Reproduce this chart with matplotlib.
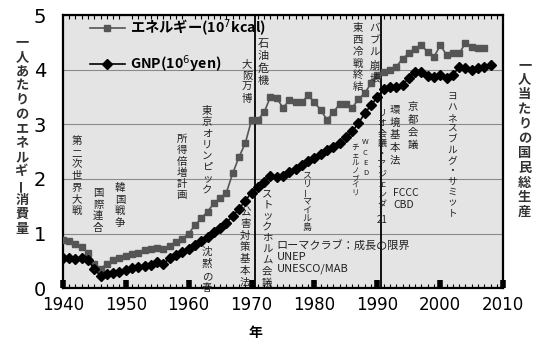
import matplotlib
matplotlib.use("Agg")
import matplotlib.pyplot as plt
import matplotlib.transforms as mtransforms
from matplotlib.ticker import MultipleLocator

plt.rcParams['font.family'] = ['Noto Sans CJK JP', 'DejaVu Sans']

# energy per person (10^7 kcal), annual
energy_years = list(range(1940, 2008))
energy = [0.88, 0.86, 0.80, 0.75, 0.65, 0.45, 0.35, 0.45, 0.52, 0.55,
          0.58, 0.62, 0.65, 0.70, 0.72, 0.73, 0.72, 0.78, 0.85, 0.90,
          1.00, 1.15, 1.28, 1.40, 1.55, 1.65, 1.75, 2.10, 2.40, 2.65,
          3.08, 3.08, 3.22, 3.50, 3.48, 3.30, 3.44, 3.40, 3.40, 3.53,
          3.40, 3.26, 3.08, 3.22, 3.37, 3.37, 3.30, 3.46, 3.57, 3.75,
          3.90, 3.96, 4.00, 4.05, 4.20, 4.30, 4.38, 4.45, 4.32, 4.23,
          4.45, 4.27, 4.30, 4.30, 4.48, 4.42, 4.40, 4.40]

# GNP per person (10^6 yen), annual
gnp_years = list(range(1940, 2009))
gnp = [0.55, 0.55, 0.54, 0.55, 0.52, 0.35, 0.22, 0.25, 0.28, 0.30,
       0.33, 0.36, 0.38, 0.40, 0.42, 0.48, 0.44, 0.55, 0.60, 0.66,
       0.72, 0.79, 0.86, 0.94, 1.02, 1.10, 1.20, 1.32, 1.45, 1.60,
       1.75, 1.85, 1.95, 2.05, 2.03, 2.05, 2.12, 2.18, 2.25, 2.32,
       2.38, 2.45, 2.52, 2.58, 2.66, 2.76, 2.87, 3.02, 3.20, 3.35,
       3.50, 3.65, 3.68, 3.68, 3.72, 3.85, 3.96, 3.96, 3.88, 3.86,
       3.90, 3.85, 3.90, 4.05, 4.03, 4.00, 4.03, 4.05, 4.08]

x_ticks = [1940, 1950, 1960, 1970, 1980, 1990, 2000, 2010]
y_ticks = [0, 1, 2, 3, 4, 5]
marker_years = [1970.5, 1990.5]

# vertical event labels: (text, x, y of first char, fontsize, pitch in pt)
events_v = [
    ("第二次世界大戦", 1942.2, 2.69, 7.5, 8.4),
    ("国際連合", 1945.6, 1.74, 7.5, 8.3),
    ("韓国戦争", 1949.1, 1.83, 7.5, 8.3),
    ("所得倍増計画", 1958.9, 2.73, 7.5, 8.1),
    ("東京オリンピック", 1962.9, 3.24, 7.5, 8.1),
    ("大阪万博", 1969.3, 4.10, 7.5, 8.3),
    ("石油危機", 1971.9, 4.47, 8, 9.0),
    ("沈黙の春", 1962.9, 0.66, 7.5, 8.6),
    ("公害対策基本法", 1969.0, 1.39, 7.5, 8.4),
    ("ストックホルム会議", 1972.5, 1.74, 7.5, 8.1),
    ("スリーマイル島", 1978.8, 2.07, 6.5, 6.3),
    ("WCED", 1988.1, 2.67, 5.5, 7.4),
    ("チェルノブイリ", 1986.5, 2.56, 5.5, 5.4),
    ("東西冷戦終結", 1986.9, 4.76, 7.5, 8.5),
    ("バブル崩壊", 1989.6, 4.76, 7.5, 9.0),
    ("環境基本法", 1992.8, 3.26, 7.5, 9.0),
    ("リオ会議・アジェンダ", 1990.7, 3.20, 6.5, 7.3),
    ("京都会議", 1995.7, 3.31, 7.5, 9.1),
    ("ヨハネスブルグ・サミット", 2001.9, 3.50, 7, 7.6),
]
events_h = [
    ("21", 1990.7, 1.25, 7),
    ("FCCC", 1992.5, 1.74, 7.5),
    ("CBD", 1992.5, 1.52, 7.5),
    ("ローマクラブ：成長の限界", 1974.0, 0.79, 8),
    ("UNEP", 1974.0, 0.57, 8),
    ("UNESCO/MAB", 1974.0, 0.35, 8),
]


def vtext(ax, trans, x, y, s, size, pitch, **kw):
    fig = ax.figure
    for i, ch in enumerate(s):
        t = mtransforms.offset_copy(trans, fig=fig, x=0, y=-i * pitch, units='points')
        rot = 90 if ch in 'ー' else 0
        ax.text(x, y, ch, transform=t, ha='center', va='center',
                fontsize=size, rotation=rot, **kw)


fig = plt.figure(figsize=(5.37, 3.41), dpi=100)
ax = fig.add_axes([0.117, 0.155, 0.82, 0.801])
ax.set_facecolor('#e4e4e4')

ax.set_xlim(1940, 2010)
ax.set_ylim(0, 5)
ax.yaxis.set_major_locator(MultipleLocator(0.5))
ax.grid(axis='y', color='#8a8a8a', linewidth=0.8)
ax.set_axisbelow(True)
for yr in marker_years:
    ax.axvline(yr, color='black', linewidth=1.3, zorder=2)

ax.plot(energy_years, energy, color='#555555', marker='s', markersize=5,
        linewidth=1.2, label='エネルギー(10$^7$kcal)', zorder=3)
ax.plot(gnp_years, gnp, color='black', marker='D', markersize=5.5,
        linewidth=1.2, label='GNP(10$^6$yen)', zorder=4)

for s, x, y, size, pitch in events_v:
    vtext(ax, ax.transData, x, y, s, size, pitch, color='#222222', zorder=5)
for s, x, y, size in events_h:
    ha = 'center' if s == '21' else 'left'
    ax.text(x, y, s, ha=ha, va='center', fontsize=size, color='#222222', zorder=5)

leg = ax.legend(loc='upper left', bbox_to_anchor=(0.061, 0.992), frameon=False,
                handlelength=2.45, handletextpad=0.4, labelspacing=1.1,
                borderaxespad=0, borderpad=0,
                prop={'size': 10.3, 'weight': 'bold'})
leg.set_zorder(10)

ax.set_xticks(x_ticks)
ax.set_xticklabels([str(v) for v in x_ticks])
ax.set_yticks(y_ticks, minor=False)
ax.set_yticklabels([str(v) for v in y_ticks])
ax.yaxis.set_minor_locator(MultipleLocator(0.5))
ax.xaxis.set_minor_locator(MultipleLocator(1))
ax.tick_params(axis='x', which='major', direction='in', length=6, width=4,
               top=False, labelsize=12, pad=6)
ax.tick_params(axis='x', which='minor', direction='in', length=3, width=0.8, top=True)
ax.tick_params(axis='y', which='both', length=0, labelsize=14, pad=12)
for lab in ax.get_xticklabels() + ax.get_yticklabels():
    lab.set_family(['Liberation Sans Narrow', 'DejaVu Sans'])
for sp in ax.spines.values():
    sp.set_linewidth(1.6)

fig.text(0.475, 0.024, '年', ha='center', va='center', fontsize=10, fontweight='bold')

# stacked vertical axis titles
vtext(ax, fig.transFigure, 0.041, 0.875, '一人あたりのエネルギー消費量', 9.5, 10.3,
      fontweight='bold', color='#333333')
vtext(ax, fig.transFigure, 0.977, 0.810, '一人当たりの国民総生産', 9.5, 10.6,
      fontweight='bold', color='#333333')

fig.savefig('out.png', dpi=100)
